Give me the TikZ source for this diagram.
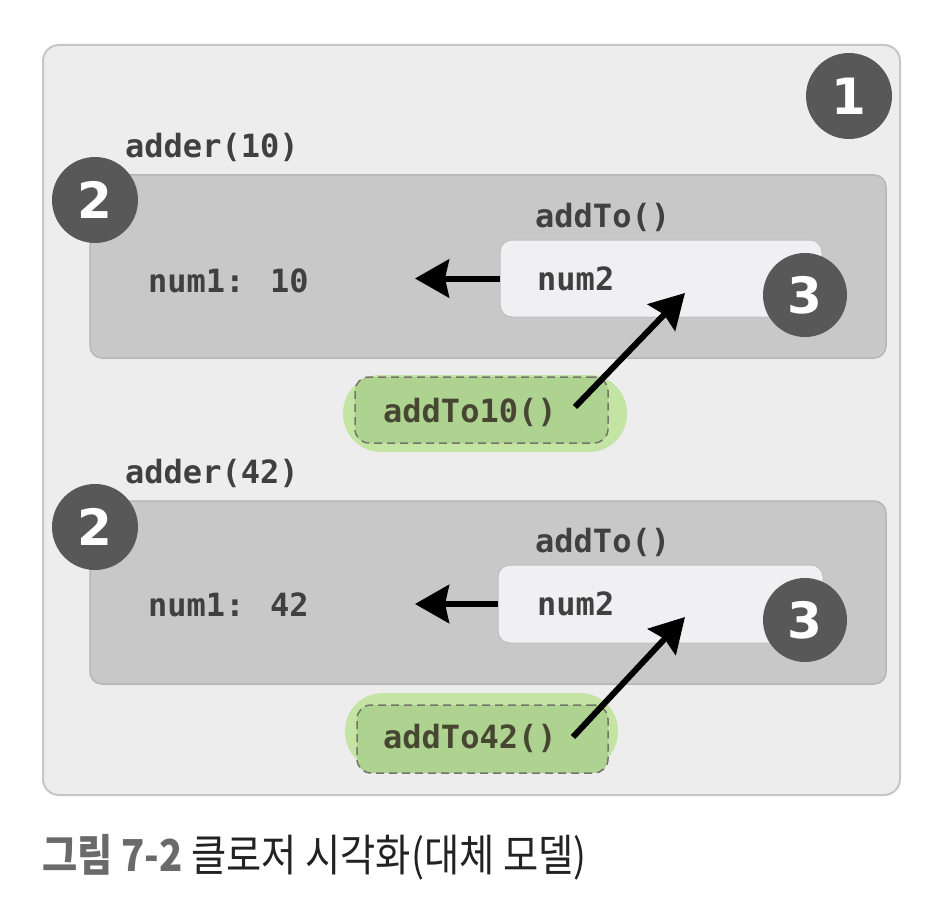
\documentclass[tikz,border=0pt]{standalone}
\usepackage{fontspec}
\newfontfamily\monof{DejaVu Sans Mono}
\newfontfamily\numf{DejaVu Sans}
\newfontfamily\krf{Noto Sans CJK KR}
\usetikzlibrary{arrows.meta}
\definecolor{outerfill}{HTML}{EDEDED}
\definecolor{outerline}{HTML}{C6C6C6}
\definecolor{boxfill}{HTML}{C8C8C8}
\definecolor{boxline}{HTML}{B6B6B6}
\definecolor{innerfill}{HTML}{F0F0F2}
\definecolor{innerline}{HTML}{BEBEBE}
\definecolor{badgefill}{HTML}{585858}
\definecolor{codecol}{HTML}{404040}
\definecolor{glowfill}{HTML}{C4E4A4}
\definecolor{pillfill}{HTML}{AED290}
\definecolor{dashcol}{HTML}{74746A}
\definecolor{pilltext}{HTML}{464632}
\definecolor{capgray}{HTML}{6A6A6A}
\definecolor{capdark}{HTML}{222222}
\tikzset{
  outerbox/.style={draw=outerline, line width=2pt, fill=outerfill, rounded corners=16pt, inner sep=0},
  graybox/.style={draw=boxline, line width=1.5pt, fill=boxfill, rounded corners=12pt, inner sep=0},
  lightbox/.style={draw=innerline, line width=1pt, fill=innerfill, rounded corners=12pt, inner sep=0},
  badge/.style={circle, fill=badgefill, text=white, font=\numf\bfseries\fontsize{50}{50}\selectfont, minimum size=86pt, inner sep=0},
  codetext/.style={font=\monof\bfseries\fontsize{32}{38}\selectfont, text=codecol, inner sep=0, anchor=base west},
  pillglow/.style={fill=glowfill, rounded corners=38pt, inner sep=0},
  pilldash/.style={draw=dashcol, fill=pillfill, line width=1.5pt, dash pattern=on 8pt off 5pt, rounded corners=14pt, inner sep=0},
  pilltxt/.style={font=\monof\bfseries\fontsize{32}{38}\selectfont, text=pilltext, inner sep=0, anchor=base west},
  arr/.style={line width=6pt, -{Stealth[length=34pt,width=38pt,inset=4pt]}},
}
\begin{document}
\begin{tikzpicture}[x=1pt,y=-1pt]
\useasboundingbox[fill=white] (0,0) rectangle (939,904);
% outer frame
\node[outerbox, minimum width=857pt, minimum height=750pt] (frame) at (471.5,420) {};
\node[badge] (b1) at (849,96) {1};
% ---- block 1
\node[codetext] (lbl1) at (125,158) {adder(10)};
\node[graybox, minimum width=796pt, minimum height=183pt] (box1) at (488,266.5) {};
\node[badge] (b2a) at (95,200) {2};
\node[codetext] (num1a) at (148,292) {num1: 10};
\node[codetext] (add1) at (535,227) {addTo()};
\node[lightbox, minimum width=322pt, minimum height=77pt] (in1) at (661,278.5) {};
\node[codetext] (num2a) at (537,290) {num2};
\node[badge, minimum size=84pt] (b3a) at (805,295) {3};
\coordinate (tipA) at (415,278.5);
\draw[arr] (in1.west) -- (tipA);
\node[pillglow, minimum width=284pt, minimum height=77pt] (p1) at (485,413.5) {};
\node[pilldash, minimum width=253pt, minimum height=66pt] (d1) at (481.5,410) {};
\node[pilltxt] (c1) at (383,422) {addTo10()};
\coordinate (tail1) at (575,407);
\coordinate (head1) at (685,293);
\draw[arr] (tail1) -- (head1);
% ---- block 2
\node[codetext] (lbl2) at (125,483) {adder(42)};
\node[graybox, minimum width=796pt, minimum height=183pt] (box2) at (488,592.5) {};
\node[badge] (b2b) at (95,527) {2};
\node[codetext] (num1b) at (148,616) {num1: 42};
\node[codetext] (add2) at (535,552) {addTo()};
\node[lightbox, minimum width=325pt, minimum height=78pt] (in2) at (660.5,604) {};
\node[codetext] (num2b) at (537,615) {num2};
\node[badge, minimum size=84pt] (b3b) at (805,620) {3};
\coordinate (tipB) at (415,604);
\draw[arr] (in2.west) -- (tipB);
\node[pillglow, minimum width=273pt, minimum height=77pt] (p2) at (481.5,731.5) {};
\node[pilldash, minimum width=251pt, minimum height=68pt] (d2) at (482.5,739) {};
\node[pilltxt] (c2) at (383,748) {addTo42()};
\coordinate (tail2) at (573,737);
\coordinate (head2) at (685,617);
\draw[arr] (tail2) -- (head2);
% ---- caption
\node[anchor=base west, inner sep=0] (cap) at (42,871) {\scalebox{0.87}[1]{\krf\fontsize{44}{50}\selectfont{\bfseries\color{capgray}그림 7-2} \color{capdark}클로저 시각화(대체 모델)}};
\end{tikzpicture}
\end{document}
